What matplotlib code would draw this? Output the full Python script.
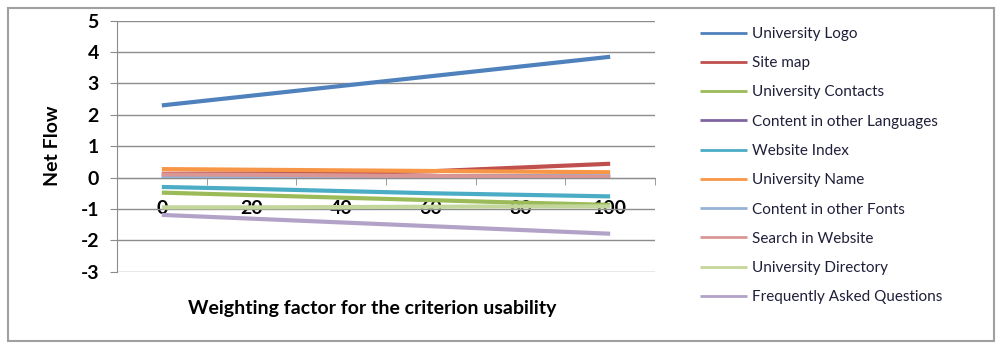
import matplotlib
matplotlib.use('Agg')
import matplotlib.pyplot as plt
from matplotlib.patches import Rectangle

plt.rcParams['font.family'] = ['Lato', 'DejaVu Sans']
plt.rcParams['axes.unicode_minus'] = False

weights = ['0', '20', '40', '60', '80', '100']

series_names = ['University Logo', 'Site map', 'University Contacts',
                'Content in other Languages', 'Website Index', 'University Name',
                'Content in other Fonts', 'Search in Website',
                'University Directory', 'Frequently Asked Questions']

university_logo = [2.30, 2.61, 2.92, 3.23, 3.54, 3.85]
site_map = [0.12, 0.13, 0.15, 0.20, 0.32, 0.44]
university_contacts = [-0.48, -0.56, -0.64, -0.72, -0.80, -0.87]
content_languages = [0.06, 0.05, 0.05, 0.04, 0.04, 0.03]
website_index = [-0.30, -0.36, -0.43, -0.50, -0.55, -0.60]
university_name = [0.27, 0.25, 0.23, 0.21, 0.19, 0.17]
content_fonts = [0.02, 0.02, 0.02, 0.03, 0.03, 0.04]
search_website = [0.10, 0.09, 0.07, 0.05, 0.03, 0.02]
university_directory = [-0.95, -0.95, -0.94, -0.93, -0.92, -0.92]
faq = [-1.19, -1.31, -1.43, -1.55, -1.67, -1.79]

colors = ['#4F81BD', '#C0504D', '#9BBB59', '#8064A2', '#4BACC6', '#F79646',
          '#95B3D7', '#D99694', '#C3D69B', '#B3A2C7']

all_series = [university_logo, site_map, university_contacts, content_languages,
              website_index, university_name, content_fonts, search_website,
              university_directory, faq]

fig = plt.figure(figsize=(10, 3.45), dpi=100)
ax = fig.add_axes([0.117, 0.2125, 0.538, 0.7275])

x = list(range(len(weights)))
lines = []
for vals, name, c in zip(all_series, series_names, colors):
    ln, = ax.plot(x, vals, color=c, lw=3, label=name, solid_capstyle='butt')
    lines.append(ln)

ax.set_xlim(-0.5, len(weights) - 0.5)
ax.set_ylim(-3, 5)
ax.set_yticks(range(-3, 6))
ax.yaxis.grid(True, color='#8c8c8c', lw=1)
ax.set_axisbelow(True)

ax.spines['top'].set_visible(False)
ax.spines['right'].set_visible(False)
ax.spines['left'].set_color('#8c8c8c')
ax.spines['bottom'].set_color('#8c8c8c')
ax.spines['bottom'].set_position(('data', 0))

ax.set_xticks(x)
ax.set_xticklabels(weights, fontsize=14, fontweight='bold')
ax.set_xticks([i + 0.5 for i in x], minor=True)
ax.tick_params(axis='x', which='major', length=0, pad=16)
ax.tick_params(axis='x', which='minor', length=5, color='#8c8c8c', direction='out')
ax.tick_params(axis='y', length=5, color='#8c8c8c', labelsize=14, pad=8)
for t in ax.get_yticklabels():
    t.set_fontweight('bold')

ax.set_ylabel('Net Flow', fontsize=14, fontweight='bold', labelpad=14)
fig.text(0.372, 0.107, 'Weighting factor for the criterion usability',
         ha='center', va='center', fontsize=14, fontweight='bold')

leg = fig.legend(lines, series_names, loc='upper left',
                 bbox_to_anchor=(0.686, 0.962), frameon=False, fontsize=11,
                 handlelength=3.1, handletextpad=0.35, labelspacing=1.0)
for h in leg.get_lines():
    h.set_linewidth(2)
for t in leg.get_texts():
    t.set_color('#1f1f3a')

fig.patches.append(Rectangle((0.008, 0.012), 0.986, 0.965, transform=fig.transFigure,
                             fill=False, edgecolor='#a0a0a0', lw=1.5))

fig.savefig('out.png', dpi=100)
